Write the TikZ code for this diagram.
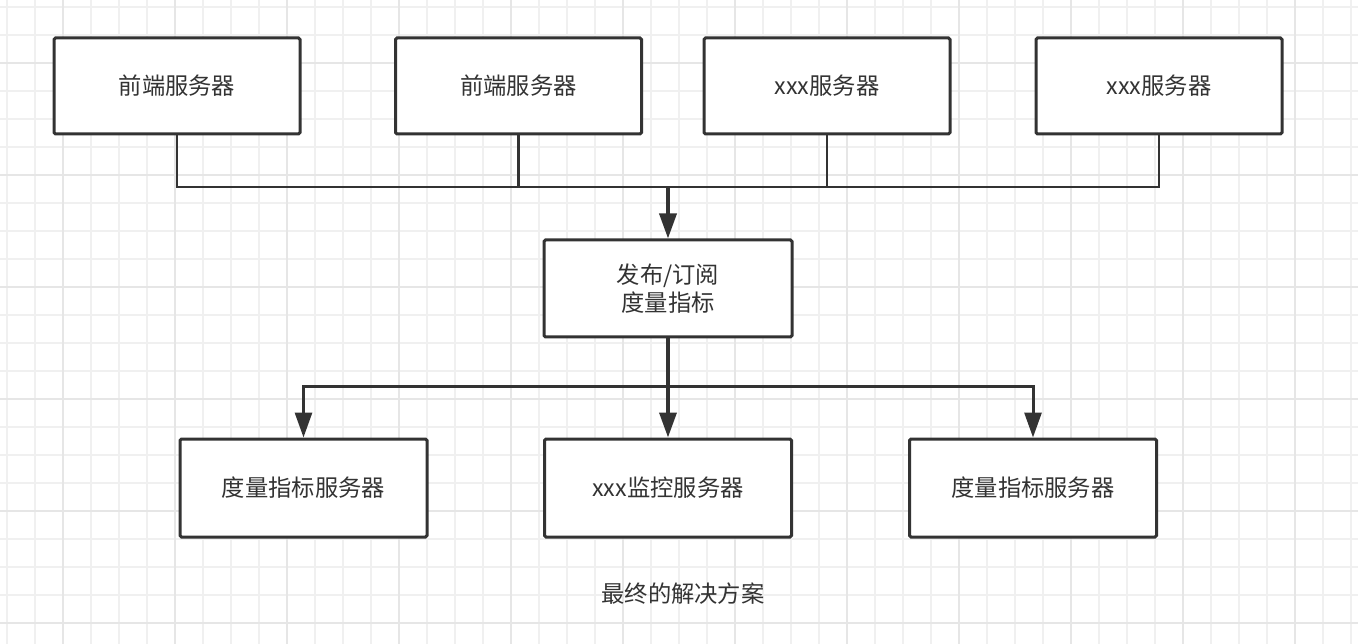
\documentclass[tikz,border=0pt]{standalone}
\usepackage{fontspec}
\setmainfont{Noto Sans CJK SC}
\usetikzlibrary{arrows.meta}
\definecolor{ink}{HTML}{333333}
\definecolor{gridminor}{HTML}{F0F0F0}
\definecolor{gridmajor}{HTML}{E6E6E6}
\tikzset{
  box/.style={draw=ink, line width=3pt, fill=white, rounded corners=1.5pt,
    minimum width=246pt, minimum height=96pt, inner sep=0pt, text=ink,
    align=center, font=\fontsize{23.3}{28}\selectfont},
  link/.style={draw=ink, line width=2.6pt},
  flow/.style={draw=ink, line width=3.6pt, -{Triangle[length=25pt,width=17pt]}},
  caption/.style={text=ink, font=\fontsize{23.3}{28}\selectfont, inner sep=0pt}
}
\begin{document}
\begin{tikzpicture}[x=1pt,y=-1pt]
\useasboundingbox (0,0) rectangle (1358,644);
\fill[white] (0,0) rectangle (1358,644);
% grid
\foreach \k in {0,...,48} {
  \pgfmathsetmacro{\xx}{6.8+28*\k}
  \draw[gridminor, line width=1.6pt] (\xx,0) -- (\xx,644);
}
\foreach \k in {0,...,22} {
  \pgfmathsetmacro{\yy}{6.8+28*\k}
  \draw[gridminor, line width=1.6pt] (0,\yy) -- (1358,\yy);
}
\foreach \k in {2,6,...,46} {
  \pgfmathsetmacro{\xx}{6.8+28*\k}
  \draw[gridmajor, line width=2pt] (\xx,0) -- (\xx,644);
}
\foreach \k in {2,6,...,22} {
  \pgfmathsetmacro{\yy}{6.8+28*\k}
  \draw[gridmajor, line width=2pt] (0,\yy) -- (1358,\yy);
}
% nodes
\node[box] (t1) at (177,86) {前端服务器};
\node[box] (t2) at (518.5,86) {前端服务器};
\node[box] (t3) at (827,86) {xxx服务器};
\node[box] (t4) at (1159,86) {xxx服务器};
\node[box, minimum width=248pt, minimum height=97pt] (m) at (668,288.5) {发布/订阅\\度量指标};
\node[box, minimum width=247pt, minimum height=98pt] (b1) at (303.5,488) {度量指标服务器};
\node[box, minimum width=247pt, minimum height=98pt] (b2) at (668,488) {xxx监控服务器};
\node[box, minimum width=247pt, minimum height=98pt] (b3) at (1033,488) {度量指标服务器};
\node[caption] (cap) at (683,594) {最终的解决方案};
% connectors
\coordinate (j) at (668,187);
\coordinate (k) at (668,387);
\draw[link] (t1.south) |- (j) -| (t4.south);
\draw[link] (t2.south) -- (t2.south |- j);
\draw[link] (t3.south) -- (t3.south |- j);
\draw[flow] (j) -- (m.north);
\draw[flow] (m.south) -- (b2.north);
\draw[flow, line width=3pt] (k) -| (b1.north);
\draw[flow, line width=3pt] (k) -| (b3.north);
\end{tikzpicture}
\end{document}
